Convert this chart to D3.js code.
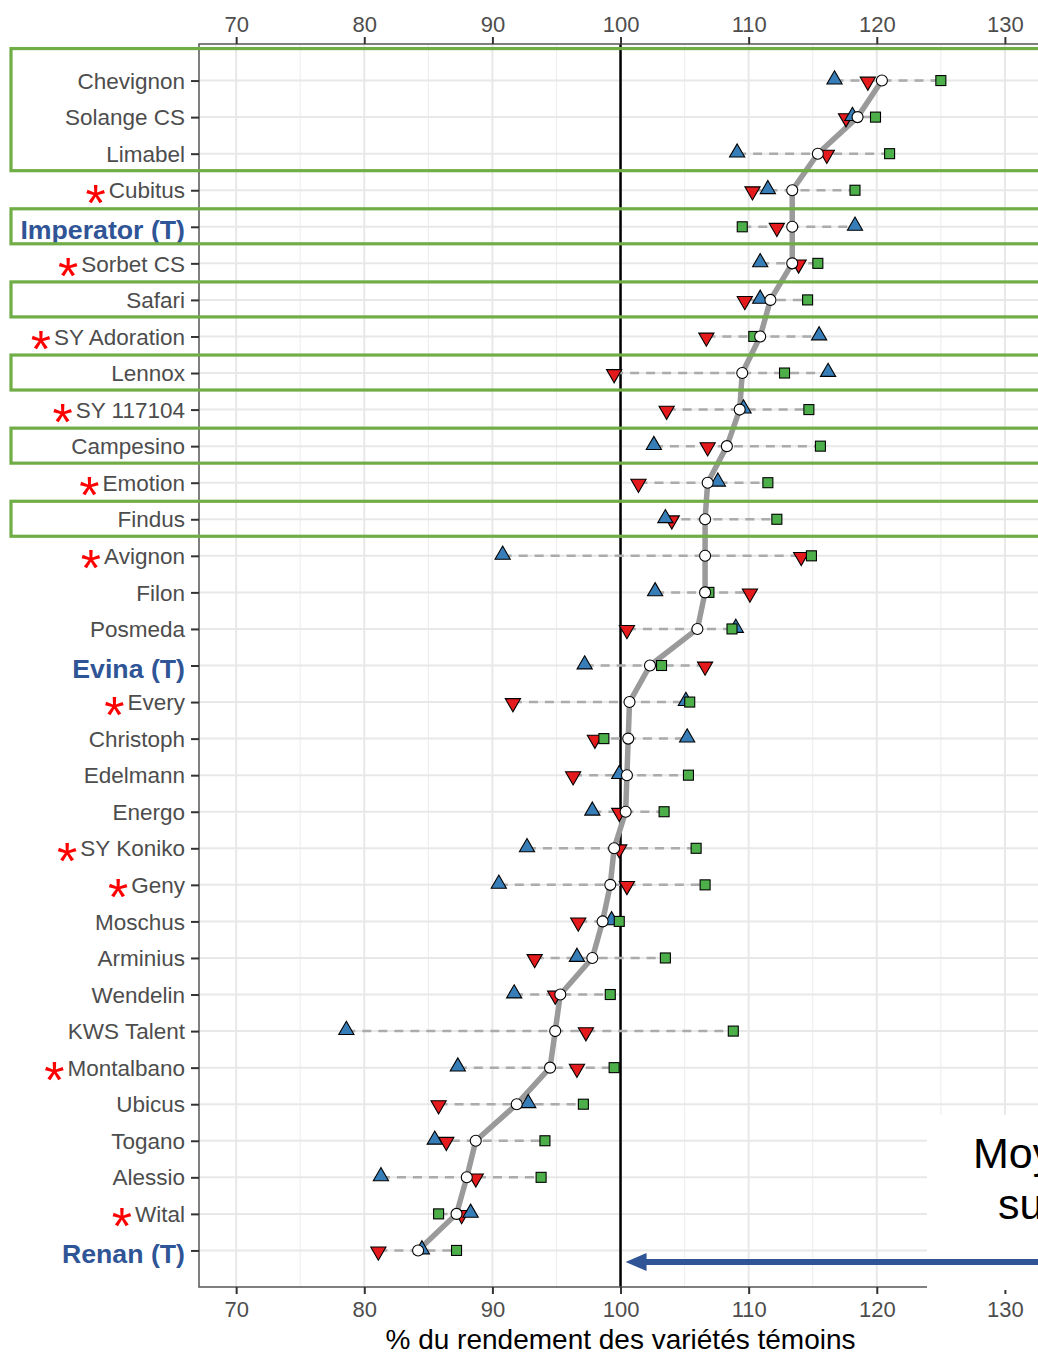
<!DOCTYPE html>
<html>
<head>
<meta charset="utf-8">
<script src="https://cdn.jsdelivr.net/npm/d3@7"></script>
<style>
  html, body { margin: 0; padding: 0; background: #fff; }
  svg { display: block; font-family: "Liberation Sans", Arial, Helvetica, sans-serif; }
</style>
</head>
<body>
<svg id="chart" width="1038" height="1354"></svg>
<script>
const varieties = ["Chevignon","Solange CS","Limabel","Cubitus","Imperator (T)","Sorbet CS","Safari","SY Adoration","Lennox","SY 117104","Campesino","Emotion","Findus","Avignon","Filon","Posmeda","Evina (T)","Every","Christoph","Edelmann","Energo","SY Koniko","Geny","Moschus","Arminius","Wendelin","KWS Talent","Montalbano","Ubicus","Togano","Alessio","Wital","Renan (T)"];
const blueVals  = [116.7,118.1,109.1,111.5,118.3,110.9,110.9,115.5,116.2,109.6,102.6,107.6,103.5,90.8,102.7,109.0,97.2,105.1,105.2,99.9,97.8,92.7,90.5,99.3,96.6,91.7,78.6,87.3,92.8,85.5,81.3,88.3,84.5];
const redVals   = [119.3,117.6,116.1,110.3,112.2,113.9,109.7,106.7,99.5,103.6,106.8,101.4,104.0,114.1,110.1,100.5,106.6,91.6,98.0,96.3,99.9,99.9,100.5,96.7,93.3,94.9,97.3,96.6,85.8,86.4,88.7,87.6,81.1];
const greenVals = [125.0,119.9,121.0,118.3,109.5,115.4,114.6,110.4,112.8,114.7,115.6,111.5,112.2,114.9,106.9,108.7,103.2,105.4,98.7,105.3,103.4,105.9,106.6,99.9,103.5,99.2,108.8,99.5,97.1,94.1,93.8,85.8,87.2];
const meanVals  = [120.4,118.5,115.4,113.4,113.4,113.4,111.7,110.9,109.5,109.3,108.3,106.8,106.6,106.6,106.6,106.0,102.3,100.7,100.6,100.5,100.4,99.5,99.2,98.6,97.8,95.3,94.9,94.5,91.9,88.7,88.0,87.2,84.2];
const checkVarieties = ["Imperator (T)","Evina (T)","Renan (T)"];
const starred = ["Cubitus","Sorbet CS","SY Adoration","SY 117104","Emotion","Avignon","Every","SY Koniko","Geny","Montalbano","Wital"];
const boxedGroups = [["Chevignon","Limabel"],["Imperator (T)","Imperator (T)"],["Safari","Safari"],["Lennox","Lennox"],["Campesino","Campesino"],["Findus","Findus"]];
const xTicks = [70,80,90,100,110,120,130];
const xMinorTicks = [75,85,95,105,115,125];
const refValue = 100;
const axisTitle = "% du rendement des variétés témoins";
const noteLines = ["Moyenne", "sur"];

const svg = d3.select("#chart");
const panel = {left: 199, top: 44, right: 1060, bottom: 1287};

const x = d3.scaleLinear().domain([67.1, 134.3]).range([panel.left, panel.right]);
const y = d3.scalePoint().domain(varieties).range([panel.top, panel.bottom]).padding(1);

const rows = varieties.map((v, i) => ({
  name: v, blue: blueVals[i], red: redVals[i], green: greenVals[i], mean: meanVals[i]
}));

// grid
const g = svg.append("g");
g.selectAll(".minor").data(xMinorTicks).join("line")
  .attr("x1", d => x(d)).attr("x2", d => x(d))
  .attr("y1", panel.top).attr("y2", panel.bottom)
  .attr("stroke", "#efefef").attr("stroke-width", 1.2);
g.selectAll(".major").data(xTicks).join("line")
  .attr("x1", d => x(d)).attr("x2", d => x(d))
  .attr("y1", panel.top).attr("y2", panel.bottom)
  .attr("stroke", "#e8e8e8").attr("stroke-width", 2);
g.selectAll(".hgrid").data(varieties).join("line")
  .attr("x1", panel.left).attr("x2", panel.right)
  .attr("y1", d => y(d)).attr("y2", d => y(d))
  .attr("stroke", "#e8e8e8").attr("stroke-width", 2);

// reference line
g.append("line")
  .attr("x1", x(refValue)).attr("x2", x(refValue))
  .attr("y1", panel.top).attr("y2", panel.bottom)
  .attr("stroke", "#000").attr("stroke-width", 2.5);

// dashed range lines
g.selectAll(".range").data(rows).join("line")
  .attr("x1", d => x(Math.min(d.blue, d.red, d.green)))
  .attr("x2", d => x(Math.max(d.blue, d.red, d.green)))
  .attr("y1", d => y(d.name)).attr("y2", d => y(d.name))
  .attr("stroke", "#ababab").attr("stroke-width", 2.5)
  .attr("stroke-dasharray", "9,7");

// mean path
g.append("path")
  .datum(rows)
  .attr("d", d3.line().x(d => x(d.mean)).y(d => y(d.name)))
  .attr("fill", "none").attr("stroke", "#9a9a9a").attr("stroke-width", 5.5)
  .attr("stroke-linejoin", "round");

// markers
const triUp = d3.symbol().type(d3.symbolTriangle).size(100)();
g.selectAll(".red").data(rows).join("path")
  .attr("d", triUp)
  .attr("transform", d => `translate(${x(d.red)},${y(d.name) + 1}) rotate(180)`)
  .attr("fill", "#e41a1c").attr("stroke", "#000").attr("stroke-width", 1.1);
g.selectAll(".blue").data(rows).join("path")
  .attr("d", triUp)
  .attr("transform", d => `translate(${x(d.blue)},${y(d.name) - 1})`)
  .attr("fill", "#377eb8").attr("stroke", "#000").attr("stroke-width", 1.1);
g.selectAll(".green").data(rows).join("rect")
  .attr("x", d => x(d.green) - 5).attr("y", d => y(d.name) - 5)
  .attr("width", 10).attr("height", 10)
  .attr("fill", "#4daf4a").attr("stroke", "#000").attr("stroke-width", 1.1);
g.selectAll(".mean").data(rows).join("circle")
  .attr("cx", d => x(d.mean)).attr("cy", d => y(d.name)).attr("r", 5.5)
  .attr("fill", "#fff").attr("stroke", "#000").attr("stroke-width", 1.1);

// panel border
svg.append("rect")
  .attr("x", panel.left).attr("y", panel.top)
  .attr("width", panel.right - panel.left).attr("height", panel.bottom - panel.top)
  .attr("fill", "none").attr("stroke", "#555").attr("stroke-width", 1.5);

// axes
const axTop = svg.append("g").attr("transform", `translate(0,${panel.top})`)
  .call(d3.axisTop(x).tickValues(xTicks).tickSize(7).tickPadding(5));
const axBot = svg.append("g").attr("transform", `translate(0,${panel.bottom})`)
  .call(d3.axisBottom(x).tickValues(xTicks).tickSize(7).tickPadding(7));
[axTop, axBot].forEach(a => {
  a.select(".domain").remove();
  a.selectAll(".tick line").attr("stroke", "#333").attr("stroke-width", 2);
  a.selectAll(".tick text").attr("fill", "#4d4d4d")
    .style("font-size", "22px").style("font-family", "Liberation Sans, Arial, sans-serif");
});

const axLeft = svg.append("g").attr("transform", `translate(${panel.left},0)`)
  .call(d3.axisLeft(y).tickSize(8).tickPadding(6));
axLeft.select(".domain").remove();
axLeft.selectAll(".tick line").attr("stroke", "#333").attr("stroke-width", 2);
axLeft.selectAll(".tick text")
  .style("font-family", "Liberation Sans, Arial, sans-serif")
  .style("font-size", d => checkVarieties.includes(d) ? "26.7px" : "22.5px")
  .style("font-weight", d => checkVarieties.includes(d) ? "bold" : "normal")
  .attr("fill", d => checkVarieties.includes(d) ? "#2f5597" : "#4d4d4d")
  .attr("dy", d => checkVarieties.includes(d) ? "0.45em" : "0.34em");

// asterisks
axLeft.selectAll(".tick").each(function(d) {
  if (!starred.includes(d)) return;
  const t = d3.select(this).select("text");
  const w = t.node().getComputedTextLength();
  d3.select(this).append("text")
    .attr("x", -14 - w - 3)
    .attr("y", 30)
    .attr("text-anchor", "end")
    .attr("fill", "#ff0000")
    .style("font-family", "Liberation Sans, Arial, sans-serif")
    .style("font-size", "52px")
    .text("*");
});

// green boxes
svg.selectAll(".box").data(boxedGroups).join("rect")
  .attr("x", 11)
  .attr("y", (d, i) => y(d[0]) - (i === 0 ? 32 : 18))
  .attr("width", 1100)
  .attr("height", (d, i) => (y(d[1]) + 17) - (y(d[0]) - (i === 0 ? 32 : 18)))
  .attr("fill", "none").attr("stroke", "#70ad47").attr("stroke-width", 3.2);

// axis title
svg.append("text")
  .attr("x", x(refValue)).attr("y", 1349)
  .attr("text-anchor", "middle")
  .style("font-size", "28px").attr("fill", "#000")
  .text(axisTitle);

// annotation box
svg.append("rect")
  .attr("x", 927).attr("y", 1115).attr("width", 200).attr("height", 175)
  .attr("fill", "#fff");
svg.selectAll(".note").data(noteLines).join("text")
  .attr("x", (d, i) => i === 0 ? 973 : 998)
  .attr("y", (d, i) => i === 0 ? 1168 : 1219)
  .style("font-size", "43px").attr("fill", "#000")
  .text(d => d);

// arrow
const arrowY = 1262;
svg.append("line")
  .attr("x1", x(refValue) + 18).attr("x2", 1100)
  .attr("y1", arrowY).attr("y2", arrowY)
  .attr("stroke", "#2f5597").attr("stroke-width", 6);
svg.append("path")
  .attr("d", `M${x(refValue) + 5},${arrowY} L${x(refValue) + 26},${arrowY - 9} L${x(refValue) + 26},${arrowY + 9} Z`)
  .attr("fill", "#2f5597");
</script>
</body>
</html>
